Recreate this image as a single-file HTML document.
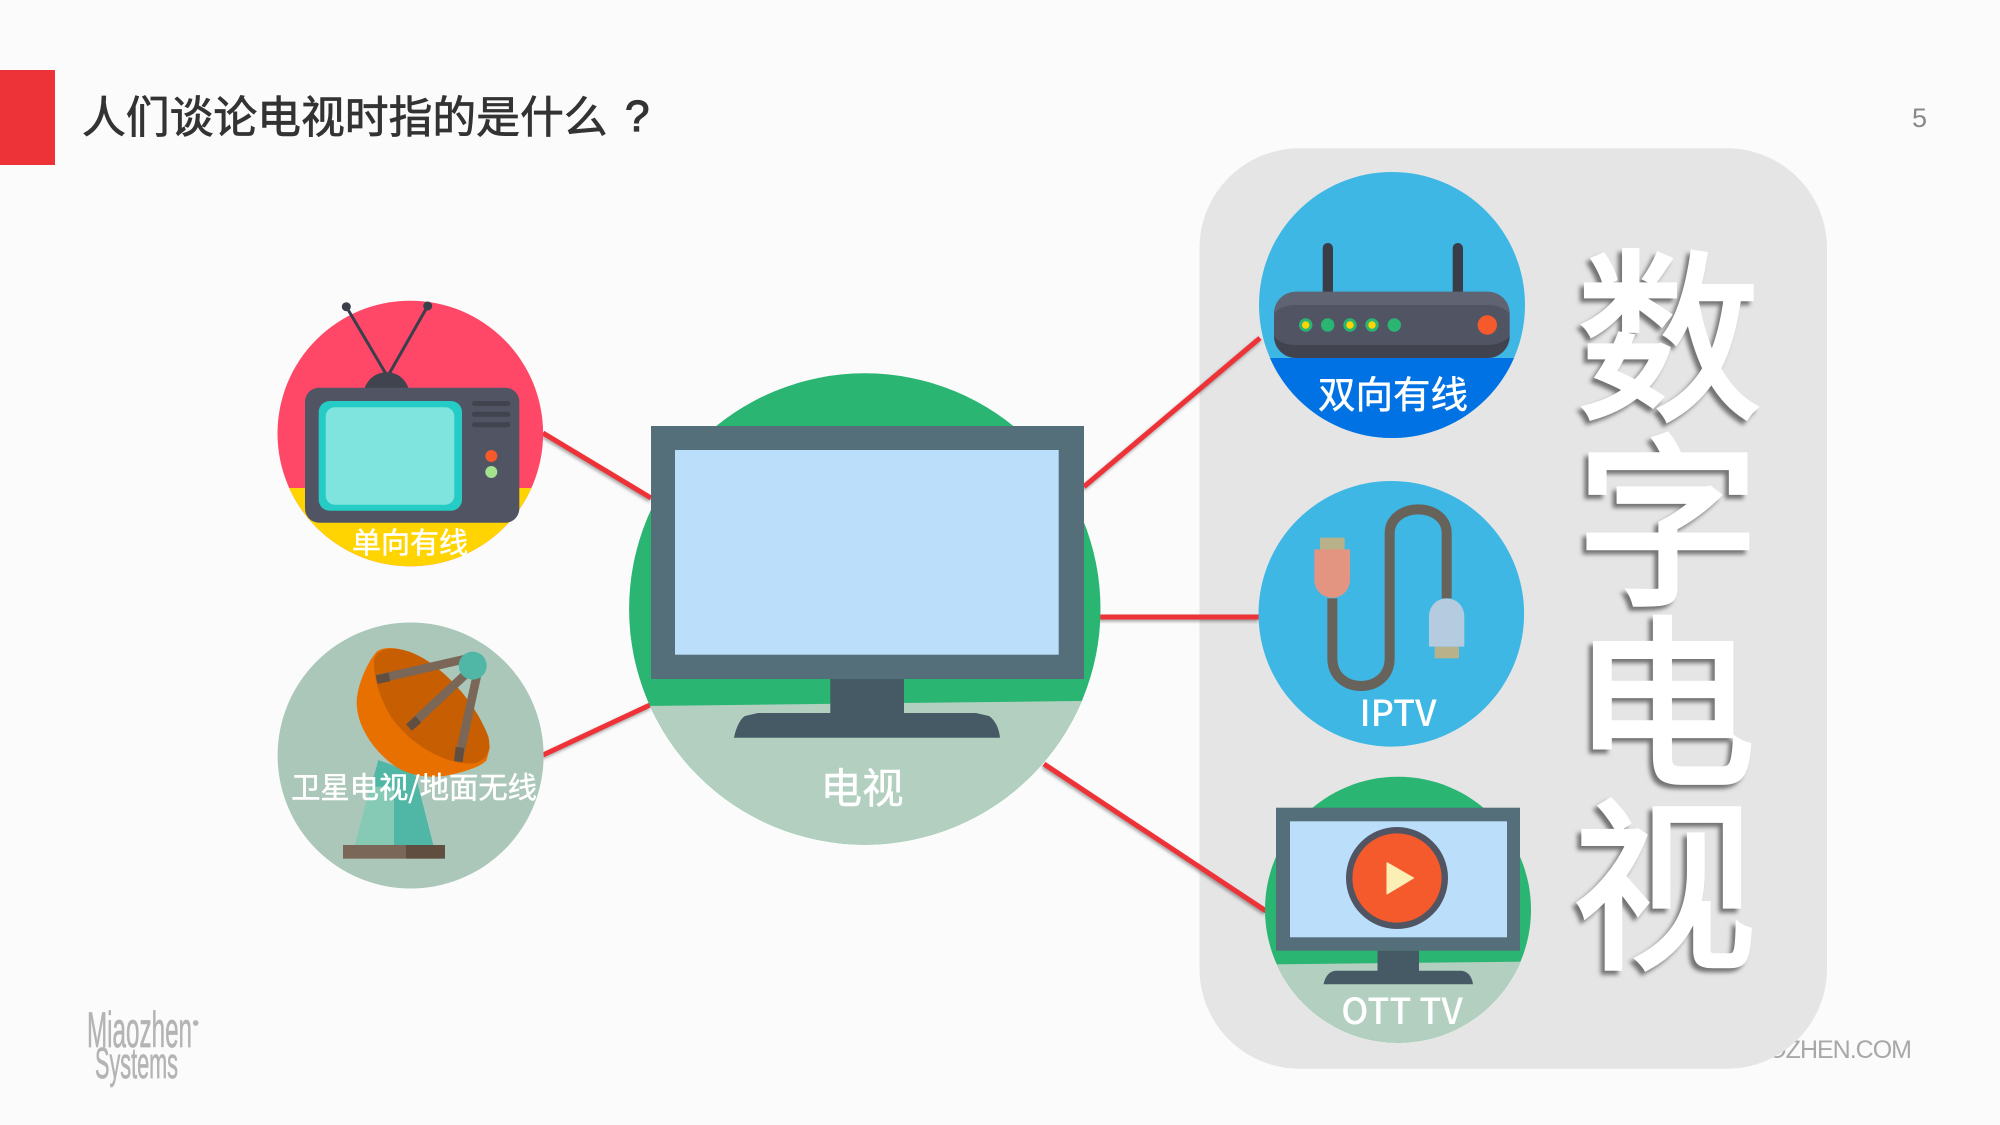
<!DOCTYPE html>
<html lang="zh"><head><meta charset="utf-8"><title>人们谈论电视时指的是什么？</title>
<style>
html,body{margin:0;padding:0;background:#fbfbfb;width:2000px;height:1125px;overflow:hidden}
svg{display:block}
text{font-family:"WenQuanYi Zen Hei","Noto Sans CJK SC","Liberation Sans",sans-serif}
.big{font-size:184px;fill:#fff;stroke:#fff;stroke-width:4.5px;stroke-linejoin:miter;text-anchor:middle;font-weight:400;filter:drop-shadow(-4px 4px 2px rgba(0,0,0,.5))}
.lines{filter:drop-shadow(-1px 2px 1.5px rgba(0,0,0,.35))}
.lat{font-family:"Noto Sans CJK SC","Liberation Sans",sans-serif;font-weight:500}
.lb{stroke:#fff;stroke-width:.5px}
</style></head><body>
<svg width="2000" height="1125" viewBox="0 0 2000 1125" xmlns="http://www.w3.org/2000/svg">
<defs>
<clipPath id="c1"><circle cx="410.3" cy="433.5" r="132.8"/></clipPath>
<clipPath id="c2"><circle cx="864.8" cy="609" r="235.7"/></clipPath>
<clipPath id="c3"><circle cx="1392" cy="305" r="133"/></clipPath>
<clipPath id="c4"><circle cx="1398" cy="909.7" r="133"/></clipPath>
</defs>
<rect width="2000" height="1125" fill="#fbfbfb"/>
<rect x="0" y="70" width="55" height="95" fill="#ee3338"/>
<text x="82" y="132.5" font-size="43.8" fill="#333" stroke="#333" stroke-width=".8">人们谈论电视时指的是什么</text>
<text x="625" y="131" font-size="44" fill="#333" stroke="#333" stroke-width="1.2" style="font-family:'Liberation Sans',sans-serif">?</text>
<text x="1912" y="127" font-size="27" fill="#888" style="font-family:'Liberation Sans',sans-serif">5</text>
<text x="1911" y="1058" font-size="25" fill="#a8a8a8" text-anchor="end" letter-spacing="-1" style="font-family:'Liberation Sans',sans-serif">WWW.MIAOZHEN.COM</text>
<g fill="#b4b4b4" stroke="#b4b4b4" stroke-width=".7">
<text x="87" y="1047" font-size="50" textLength="105" lengthAdjust="spacingAndGlyphs" style="font-family:'Liberation Sans',sans-serif">Miaozhen</text>
<text x="95" y="1078" font-size="44" textLength="83" lengthAdjust="spacingAndGlyphs" style="font-family:'Liberation Sans',sans-serif">Systems</text>
<circle cx="195.7" cy="1023" r="2.5"/>
</g>
<rect x="1199.5" y="148.3" width="627.5" height="920.4" rx="100" ry="100" fill="#e5e5e5"/>
<g class="lines" stroke="#ee3338" stroke-width="5" fill="none">
<line x1="543" y1="433" x2="651" y2="498"/>
<line x1="543" y1="755" x2="650" y2="705"/>
<line x1="1084" y1="486.7" x2="1260" y2="338"/>
<line x1="1100" y1="617" x2="1259" y2="617"/>
<line x1="1044" y1="764" x2="1266" y2="911"/>
</g>
<!-- old TV -->
<circle cx="410.3" cy="433.5" r="132.8" fill="#ff4768"/>
<rect x="270" y="488" width="280" height="90" fill="#ffd400" clip-path="url(#c1)"/>
<g stroke="#3a3f4b" stroke-width="3"><line x1="346.3" y1="306.7" x2="386" y2="374"/><line x1="427.7" y1="306" x2="389" y2="374"/></g>
<circle cx="346.3" cy="306.7" r="4.5" fill="#3a3f4b"/><circle cx="427.7" cy="306" r="4.5" fill="#3a3f4b"/>
<path d="M364 390C367 379 376 372.3 386.7 372.3S406 379 409 390Z" fill="#41444f"/>
<rect x="305" y="387.7" width="214.3" height="135" rx="14" fill="#505463"/>
<rect x="318.7" y="401" width="143.3" height="109.7" rx="11" fill="#25ccc5"/>
<rect x="325.7" y="407.3" width="128.6" height="97.4" rx="9" fill="#7fe3de"/>
<g fill="#41444f"><rect x="472" y="401" width="38.3" height="5" rx="2.5"/><rect x="472" y="411.7" width="38.3" height="5" rx="2.5"/><rect x="472" y="422.3" width="38.3" height="5" rx="2.5"/></g>
<circle cx="491.3" cy="456" r="6" fill="#f45a2c"/><circle cx="491.3" cy="472" r="6" fill="#a4e28f"/>
<text class="lb" x="410" y="553" font-size="29" fill="#fff" text-anchor="middle">单向有线</text>
<!-- satellite -->
<circle cx="410.6" cy="755.5" r="133" fill="#abc7b9"/>
<g transform="translate(260 610) scale(.33333)">
<path d="M355 450L285 705H520L465 490Z" fill="#50b6a6"/>
<path d="M330 530L285 705H402V530Z" fill="#86c9b4"/>
<rect x="249" y="705" width="189" height="41" fill="#7a6757"/><rect x="438" y="705" width="117" height="41" fill="#604e41"/>
<path d="M350 125C320 160 290 230 290 280C292 350 340 420 400 465C450 500 520 510 590 490C630 480 670 465 680 450L690 410L430 120C400 112 370 110 350 125Z" fill="#e87000"/>
<path d="M342 155C345 120 380 110 430 120C520 140 640 260 685 380C695 420 680 455 640 460C560 465 460 410 400 330C370 290 340 210 342 155Z" fill="#c75e02"/>
<g stroke="#7a6757" stroke-width="26"><line x1="625" y1="145" x2="350" y2="208"/><line x1="620" y1="190" x2="447" y2="352"/><line x1="652" y1="190" x2="595" y2="452"/></g>
<g stroke="#604e41" stroke-width="26"><line x1="350" y1="209" x2="388" y2="201"/><line x1="475" y1="328" x2="447" y2="353"/><line x1="600" y1="412" x2="595" y2="455"/></g>
<circle cx="638" cy="167" r="42" fill="#50b6a6"/>
</g>
<text class="lb" x="414" y="798" font-size="29.3" fill="#fff" text-anchor="middle">卫星电视/地面无线</text>
<!-- main -->
<circle cx="864.8" cy="609" r="235.7" fill="#2ab573"/>
<path d="M600 706.5L1120 700.5V860H600Z" fill="#b2cfc0" clip-path="url(#c2)"/>
<rect x="651" y="426" width="433" height="253" fill="#546e7a"/>
<rect x="675" y="450" width="383.7" height="204.7" fill="#bbdefb"/>
<rect x="830.3" y="679" width="73.7" height="36" fill="#455a64"/>
<path d="M734 737.7C736 727 741 718 745 716L758 713H976L989 716C995 720 999 728 1000 737.7Z" fill="#455a64"/>
<text class="lb" x="862" y="803" font-size="41.5" fill="#fff" text-anchor="middle">电视</text>
<!-- router -->
<circle cx="1392" cy="305" r="133" fill="#3eb7e4"/>
<rect x="1250" y="358" width="285" height="85" fill="#0072e3" clip-path="url(#c3)"/>
<rect x="1322.7" y="243" width="10.3" height="60" rx="5" fill="#383d47"/><rect x="1452.7" y="243" width="10.3" height="60" rx="5" fill="#383d47"/>
<rect x="1274" y="291.7" width="235.7" height="66.3" rx="22" fill="#505463"/>
<path d="M1274 313.7A22 22 0 0 1 1296 291.7H1487.7A22 22 0 0 1 1509.7 313.7C1505 308 1497 305 1487 305H1296C1286 305 1278 308 1274 313.7Z" fill="#606472"/>
<path d="M1274 336C1278 342 1286 345 1296 345H1487C1497 345 1505 342 1509.7 336A22 22 0 0 1 1487.7 358H1296A22 22 0 0 1 1274 336Z" fill="#41444f"/>
<g fill="#2ab573"><circle cx="1305.7" cy="325" r="6.7"/><circle cx="1327.7" cy="325" r="6.7"/><circle cx="1350" cy="325" r="6.7"/><circle cx="1372" cy="325" r="6.7"/><circle cx="1394.3" cy="325" r="6.7"/></g>
<g fill="#ffd400"><circle cx="1305.7" cy="325" r="3.7"/><circle cx="1350" cy="325" r="3.7"/><circle cx="1372" cy="325" r="3.7"/></g>
<circle cx="1487.3" cy="325" r="9.7" fill="#f45a2c"/>
<text class="lb" x="1393" y="408" font-size="37.5" fill="#fff" text-anchor="middle">双向有线</text>
<!-- IPTV -->
<circle cx="1391.3" cy="613.8" r="132.8" fill="#3eb7e4"/>
<g transform="translate(1240 470) scale(.33333)">
<path d="M277 385V565C277 620 320 648 363 648C406 648 449 620 449 565V190C449 145 490 118 535 118C580 118 620 145 620 190V385" fill="none" stroke="#67625a" stroke-width="30"/>
<rect x="240" y="203" width="74" height="36" fill="#b9b189"/>
<path d="M223 238H330V330A53 53 0 0 1 223 330Z" fill="#e39582"/>
<rect x="584" y="530" width="73" height="35" fill="#b9b189"/>
<path d="M567 438A53 53 0 0 1 673 438V530H567Z" fill="#b5cbe0"/>
</g>
<text class="lat" x="1398" y="726" font-size="36" fill="#fff" text-anchor="middle">IPTV</text>
<!-- OTT -->
<circle cx="1398" cy="909.7" r="133" fill="#2ab573"/>
<path d="M1260 964.5L1540 961.5V1050H1260Z" fill="#b2cfc0" clip-path="url(#c4)"/>
<rect x="1276" y="807.7" width="244" height="143" fill="#546e7a"/>
<rect x="1290" y="821.3" width="217" height="116" fill="#bbdefb"/>
<rect x="1377.5" y="950.7" width="41.5" height="21" fill="#455a64"/>
<path d="M1323.5 984.3C1325 977 1329 971 1336 970.7H1461C1468 971 1472 977 1473 984.3Z" fill="#455a64"/>
<circle cx="1397" cy="878" r="51" fill="#505463"/>
<circle cx="1397" cy="878" r="44.6" fill="#f45a2c"/>
<path d="M1387 862.7L1413.7 878L1387 894Z" fill="#fbefb6" stroke="#fbefb6" stroke-width="1" stroke-linejoin="round"/>
<text class="lat" x="1402" y="1024" font-size="36" fill="#fff" text-anchor="middle">OTT TV</text>
<!-- big -->
<text class="big" x="1669" y="405">数</text>
<text class="big" x="1668" y="590">字</text>
<text class="big" x="1664" y="771">电</text>
<text class="big" x="1664" y="954">视</text>
</svg>
</body></html>
